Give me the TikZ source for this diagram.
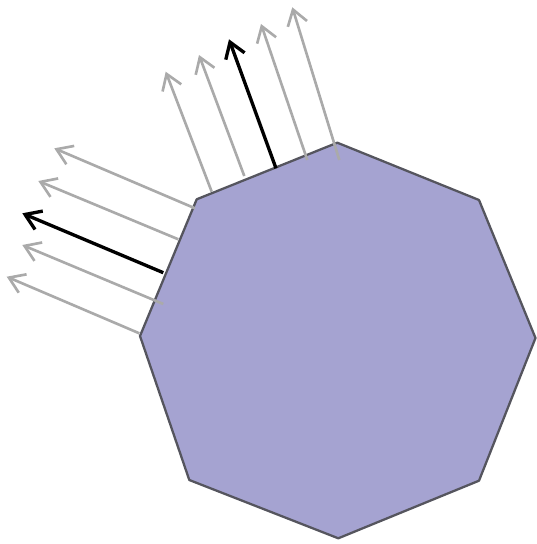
\documentclass[tikz,border=0pt]{standalone}
\usepackage{xcolor}
\usepackage{tikz}
\usetikzlibrary{arrows.meta}
\definecolor{facefill}{RGB}{165,163,209}
\definecolor{faceedge}{RGB}{85,85,94}
\definecolor{raygray}{RGB}{170,170,170}
\tikzset{
  face/.style={draw=faceedge, fill=facefill, line width=1.3pt, line join=round},
  ray/.style={draw=raygray, line width=1.5pt, -{Straight Barb[length=3mm, width=4mm]}},
  mainray/.style={ray, draw=black, line width=1.9pt},
}

\begin{document}
\begin{tikzpicture}[x=0.02cm, y=-0.02cm]
\useasboundingbox (0,0) rectangle (537,544);
% the octagon
\draw[face] (337.3,142.7) -- (479,200) -- (535.5,338) -- (479,480.7) -- (338.3,538.3)
  -- (189.3,480) -- (140,336) -- (196.7,199.3) -- cycle;
% rays on the upper edge
\foreach \s/\t in {{(211.7,191.7)}/{(165.7,71.7)}, {(244.3,176)}/{(199,55)},
  {(307.3,160)}/{(261,24)}, {(339.3,160)}/{(292.3,7.3)}}
  \draw[ray] \s -- \t;
\draw[mainray] (276,168.3) -- (229,39.3);
% rays on the left edge
\foreach \s/\t in {{(195,208.3)}/{(54.3,148.3)}, {(178.3,239.3)}/{(38.3,181)},
  {(163.3,304)}/{(22.3,245)}, {(139.3,333.3)}/{(6.7,276.7)}}
  \draw[ray] \s -- \t;
\draw[mainray] (163.3,272.7) -- (22.3,213.3);
\end{tikzpicture}
\end{document}
